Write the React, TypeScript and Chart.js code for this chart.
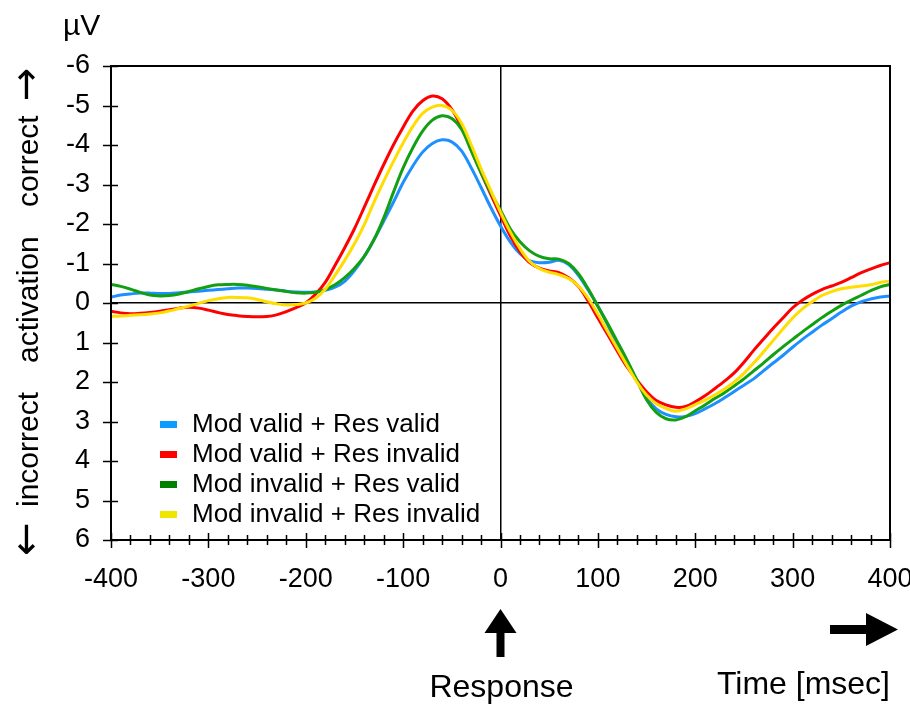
import React, { useEffect, useRef } from "react";
import { Chart, registerables } from "chart.js";

Chart.register(...registerables);

const FONT = "'Liberation Sans', Arial, Helvetica, sans-serif";
const ARROW_FONT = "'DejaVu Sans', 'Liberation Sans', sans-serif";

// Time axis (ms relative to response)
const times = [
  -400, -390, -380, -370, -360, -350, -340, -330, -320, -310,
  -300, -290, -280, -270, -260, -250, -240, -230, -220, -210,
  -200, -190, -180, -170, -160, -150, -140, -130, -120, -110,
  -100, -90, -80, -70, -60, -50, -40, -30, -20, -10,
  0, 10, 20, 30, 40, 50, 60, 70, 80, 90,
  100, 110, 120, 130, 140, 150, 160, 170, 180, 190,
  200, 210, 220, 230, 240, 250, 260, 270, 280, 290,
  300, 310, 320, 330, 340, 350, 360, 370, 380, 390,
  400,
];

const modValidResValid = [
  -0.15, -0.2, -0.23, -0.25, -0.25, -0.24, -0.24, -0.26, -0.28, -0.3,
  -0.32, -0.34, -0.36, -0.38, -0.38, -0.37, -0.35, -0.33, -0.3, -0.28,
  -0.27, -0.28, -0.32, -0.4, -0.55, -0.82, -1.17, -1.6, -2.07, -2.55,
  -3.05, -3.47, -3.82, -4.04, -4.13, -4.08, -3.85, -3.42, -2.93, -2.42,
  -1.95, -1.55, -1.25, -1.07, -1.02, -1.03, -1.08, -0.97, -0.7, -0.33,
  0.08, 0.55, 1.05, 1.5, 1.95, 2.4, 2.68, 2.82, 2.88, 2.87,
  2.8, 2.68, 2.55, 2.4, 2.24, 2.08, 1.92, 1.72, 1.52, 1.33,
  1.12, 0.92, 0.74, 0.56, 0.4, 0.23, 0.08, -0.03, -0.1, -0.15,
  -0.18,
];

const modValidResInvalid = [
  0.21, 0.25, 0.27, 0.26, 0.24, 0.21, 0.17, 0.13, 0.11, 0.13,
  0.18, 0.24, 0.29, 0.32, 0.34, 0.35, 0.34, 0.3, 0.22, 0.12,
  0.0, -0.22, -0.52, -0.95, -1.4, -1.88, -2.42, -2.97, -3.5, -4.0,
  -4.45, -4.86, -5.12, -5.24, -5.17, -4.9, -4.45, -3.87, -3.3, -2.75,
  -2.22, -1.7, -1.3, -1.02, -0.88, -0.81, -0.77, -0.64, -0.42, -0.05,
  0.38, 0.8, 1.22, 1.62, 1.95, 2.25, 2.47, 2.58, 2.64, 2.62,
  2.5, 2.35, 2.17, 1.98, 1.77, 1.5, 1.2, 0.92, 0.64, 0.38,
  0.12, -0.07, -0.22, -0.34, -0.43, -0.52, -0.64, -0.76, -0.86, -0.95,
  -1.02,
];

const modInvalidResValid = [
  -0.47, -0.42, -0.35, -0.27, -0.2, -0.18, -0.19, -0.23, -0.29, -0.36,
  -0.42, -0.46, -0.47, -0.47, -0.45, -0.41, -0.37, -0.33, -0.29, -0.26,
  -0.25, -0.27, -0.34, -0.46, -0.64, -0.88, -1.18, -1.6, -2.15, -2.8,
  -3.42, -3.93, -4.35, -4.63, -4.74, -4.67, -4.4, -3.85, -3.3, -2.8,
  -2.35, -1.88, -1.55, -1.32, -1.18, -1.12, -1.11, -1.0, -0.74, -0.36,
  0.08, 0.52, 0.98, 1.45, 1.95, 2.45, 2.77, 2.93, 2.96, 2.88,
  2.73, 2.58, 2.42, 2.27, 2.1, 1.92, 1.72, 1.52, 1.31, 1.11,
  0.92, 0.73, 0.55, 0.37, 0.21, 0.06, -0.07, -0.19, -0.31, -0.41,
  -0.47,
];

const modInvalidResInvalid = [
  0.34, 0.33, 0.31, 0.3, 0.28, 0.25, 0.2, 0.14, 0.08, 0.01,
  -0.06, -0.11, -0.14, -0.14, -0.13, -0.09, -0.03, 0.02, 0.05, 0.04,
  0.0, -0.12, -0.35, -0.7, -1.08, -1.5, -1.98, -2.55, -3.08, -3.58,
  -4.05, -4.47, -4.8, -4.96, -5.0, -4.88, -4.55, -4.0, -3.4, -2.85,
  -2.3, -1.8, -1.38, -1.05, -0.87, -0.78, -0.72, -0.62, -0.43, -0.12,
  0.28, 0.72, 1.15, 1.58, 2.0, 2.33, 2.55, 2.67, 2.74, 2.68,
  2.57, 2.46, 2.33, 2.18, 2.0, 1.78, 1.52, 1.24, 0.95, 0.66,
  0.38, 0.15, -0.03, -0.19, -0.29, -0.36, -0.4, -0.43, -0.46, -0.52,
  -0.56,
];

const seriesLabels = [
  "Mod valid + Res valid",
  "Mod valid + Res invalid",
  "Mod invalid + Res valid",
  "Mod invalid + Res invalid",
];
const seriesValues = [modValidResValid, modValidResInvalid, modInvalidResValid, modInvalidResInvalid];
const lineColors = ["#1e8fff", "#ff0000", "#12a012", "#ffdd00"];
const legendColors = ["#0a9cff", "#ff0000", "#008000", "#f0e600"];

const yTickValues = [-6, -5, -4, -3, -2, -1, 0, 1, 2, 3, 4, 5, 6];
const yTickLabels = ["-6", "-5", "-4", "-3", "-2", "-1", "0", "1", "2", "3", "4", "5", "6"];
const xTickValues = [-400, -300, -200, -100, 0, 100, 200, 300, 400];
const xTickLabels = ["-400", "-300", "-200", "-100", "0", "100", "200", "300", "400"];

const unitLabel = "\u00b5V";
// y-axis title pieces (drawn rotated, bottom to top)
const yTitleWords = ["incorrect", "activation", "correct"];
const yTitleArrowDown = "\u2190";
const yTitleArrowUp = "\u2192";
const xTitle = "Time [msec]";
const responseLabel = "Response";

const decorPlugin = {
  id: "decor",
  afterDraw(chart: any) {
    const ctx = chart.ctx;
    const { left, right, top, bottom } = chart.chartArea;
    const xs = chart.scales.x;
    const ys = chart.scales.y;
    ctx.save();
    ctx.strokeStyle = "#000";
    ctx.lineWidth = 2;
    ctx.strokeRect(left, top, right - left, bottom - top);

    // crossing tick marks
    ctx.lineWidth = 1.5;
    ctx.beginPath();
    for (let t = -400; t <= 400; t += 20) {
      const px = Math.round(xs.getPixelForValue(t)) + 0.5;
      const major = t % 100 === 0;
      ctx.moveTo(px, bottom - (major ? 7 : 5));
      ctx.lineTo(px, bottom + (major ? 8 : 5));
    }
    for (const v of yTickValues) {
      const py = Math.round(ys.getPixelForValue(v)) + 0.5;
      ctx.moveTo(left - 8, py);
      ctx.lineTo(left + 7, py);
    }
    ctx.stroke();

    // legend
    ctx.font = `26px ${FONT}`;
    ctx.textAlign = "left";
    ctx.textBaseline = "alphabetic";
    seriesLabels.forEach((lab, i) => {
      ctx.fillStyle = legendColors[i];
      ctx.fillRect(160, 421 + 30 * i, 17, 7);
      ctx.fillStyle = "#000";
      ctx.fillText(lab, 192, 432 + 30 * i);
    });

    // unit label
    ctx.font = `30px ${FONT}`;
    ctx.fillText(unitLabel, 63, 35);

    // rotated y-axis title
    ctx.save();
    ctx.translate(38, 0);
    ctx.rotate(-Math.PI / 2);
    ctx.fillStyle = "#000";
    ctx.textAlign = "left";
    ctx.textBaseline = "alphabetic";
    ctx.font = `40px ${ARROW_FONT}`;
    ctx.fillText(yTitleArrowDown, -556, 1);
    ctx.font = `30px ${FONT}`;
    const starts = [-507, -363, -207];
    yTitleWords.forEach((w, i) => ctx.fillText(w, starts[i], 0));
    ctx.font = `40px ${ARROW_FONT}`;
    ctx.fillText(yTitleArrowUp, -101, 1);
    ctx.restore();

    // response label and arrows
    ctx.font = `32px ${FONT}`;
    ctx.textAlign = "center";
    const zeroX = xs.getPixelForValue(0);
    ctx.fillText(responseLabel, zeroX + 1, 697);

    ctx.fillStyle = "#000";
    ctx.fillRect(zeroX - 4, 632, 8, 25);
    ctx.beginPath();
    ctx.moveTo(zeroX - 16, 633);
    ctx.lineTo(zeroX + 16, 633);
    ctx.lineTo(zeroX, 609);
    ctx.closePath();
    ctx.fill();

    ctx.fillRect(830, 625, 38, 9);
    ctx.beginPath();
    ctx.moveTo(866, 613);
    ctx.lineTo(866, 646);
    ctx.lineTo(898, 629.5);
    ctx.closePath();
    ctx.fill();

    ctx.restore();
  },
};

export default function App() {
  const ref = useRef<HTMLCanvasElement | null>(null);

  useEffect(() => {
    if (!ref.current) return;
    const datasets = seriesValues.map((vals, i) => ({
      label: seriesLabels[i],
      data: times.map((t, k) => ({ x: t, y: vals[k] })),
      borderColor: lineColors[i],
      backgroundColor: lineColors[i],
      borderWidth: 3,
      pointRadius: 0,
      tension: 0.35,
      fill: false,
      order: 4 - i,
    }));

    const chart = new Chart(ref.current, {
      type: "line",
      data: { datasets },
      options: {
        animation: false,
        responsive: false,
        devicePixelRatio: 1,
        layout: { padding: { top: 66, right: 20, left: 0, bottom: 0 } },
        plugins: {
          legend: { display: false },
          tooltip: { enabled: false },
          title: { display: false },
        },
        scales: {
          x: {
            type: "linear",
            min: -400,
            max: 400,
            afterFit: (s: any) => {
              s.height = 164;
              s.paddingLeft = 0;
              s.paddingRight = 0;
            },
            afterBuildTicks: (s: any) => {
              s.ticks = xTickValues.map((v) => ({ value: v }));
            },
            ticks: {
              autoSkip: false,
              maxRotation: 0,
              padding: 23,
              color: "#000",
              font: { family: FONT, size: 27 },
              callback: (v: any) => {
                const i = xTickValues.indexOf(Number(v));
                return i >= 0 ? xTickLabels[i] : "";
              },
            },
            grid: {
              drawTicks: false,
              lineWidth: 1.5,
              color: (c: any) => (c.tick && c.tick.value === 0 ? "#000" : "rgba(0,0,0,0)"),
            },
            border: { display: false },
            title: {
              display: true,
              text: xTitle,
              align: "end",
              color: "#000",
              font: { family: FONT, size: 32 },
              padding: { top: 0, bottom: 0 },
            },
          },
          y: {
            type: "linear",
            min: -6,
            max: 6,
            reverse: true,
            afterFit: (s: any) => {
              s.width = 111;
              s.paddingTop = 0;
              s.paddingBottom = 0;
            },
            afterBuildTicks: (s: any) => {
              s.ticks = yTickValues.map((v) => ({ value: v }));
            },
            ticks: {
              padding: 21,
              color: "#000",
              font: { family: FONT, size: 27 },
              callback: (v: any) => {
                const i = yTickValues.indexOf(Number(v));
                return i >= 0 ? yTickLabels[i] : "";
              },
            },
            grid: {
              drawTicks: false,
              lineWidth: 1.5,
              color: (c: any) => (c.tick && c.tick.value === 0 ? "#000" : "rgba(0,0,0,0)"),
            },
            border: { display: false },
          },
        },
      },
      plugins: [decorPlugin],
    } as any);

    return () => chart.destroy();
  }, []);

  return (
    <div style={{ position: "absolute", left: 0, top: 0, width: 910, height: 704, background: "#fff" }}>
      <canvas ref={ref} width={910} height={704} style={{ display: "block", width: 910, height: 704 }} />
    </div>
  );
}
